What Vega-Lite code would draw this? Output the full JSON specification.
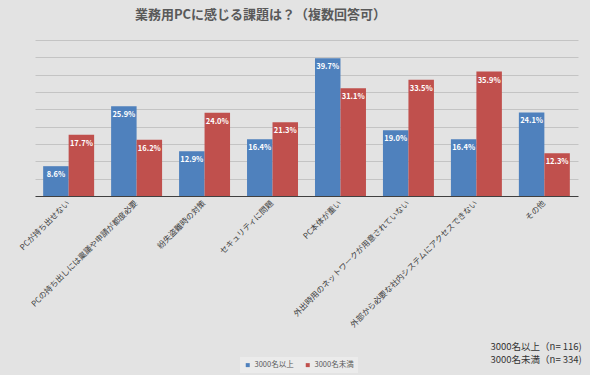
{
  "$schema": "https://vega.github.io/schema/vega-lite/v6.json",
  "width": 543,
  "height": 156,
  "autosize": {"type": "none"},
  "padding": {"left": 35, "top": 40, "right": 12, "bottom": 179},
  "background": "#e3e3e3",
  "title": {
    "text": "業務用PCに感じる課題は？（複数回答可）",
    "font": "Noto Sans CJK JP",
    "fontSize": 13,
    "fontWeight": "bold",
    "color": "#595959",
    "anchor": "middle",
    "dx": -46,
    "offset": 18
  },
  "data": {
    "values": [
      {"item": "PCが持ち出せない", "group": "3000名以上", "value": 0.086},
      {"item": "PCが持ち出せない", "group": "3000名未満", "value": 0.177},
      {"item": "PCの持ち出しには稟議や申請が都度必要", "group": "3000名以上", "value": 0.259},
      {"item": "PCの持ち出しには稟議や申請が都度必要", "group": "3000名未満", "value": 0.162},
      {"item": "紛失盗難時の対策", "group": "3000名以上", "value": 0.129},
      {"item": "紛失盗難時の対策", "group": "3000名未満", "value": 0.240},
      {"item": "セキュリティに問題", "group": "3000名以上", "value": 0.164},
      {"item": "セキュリティに問題", "group": "3000名未満", "value": 0.213},
      {"item": "PC本体が重い", "group": "3000名以上", "value": 0.397},
      {"item": "PC本体が重い", "group": "3000名未満", "value": 0.311},
      {"item": "外出時用のネットワークが用意されていない", "group": "3000名以上", "value": 0.190},
      {"item": "外出時用のネットワークが用意されていない", "group": "3000名未満", "value": 0.335},
      {"item": "外部から必要な社内システムにアクセスできない", "group": "3000名以上", "value": 0.164},
      {"item": "外部から必要な社内システムにアクセスできない", "group": "3000名未満", "value": 0.359},
      {"item": "その他", "group": "3000名以上", "value": 0.241},
      {"item": "その他", "group": "3000名未満", "value": 0.123}
    ]
  },
  "encoding": {
    "x": {
      "field": "item",
      "type": "nominal",
      "sort": null,
      "scale": {"paddingInner": 0.25, "paddingOuter": 0.12},
      "axis": {
        "title": ["3000名以上（n= 116)", "3000名未満（n= 334)"],
        "titleFont": "Noto Sans CJK JP",
        "titleFontSize": 9.5,
        "titleFontWeight": "normal",
        "titleColor": "#333333",
        "titleAlign": "left",
        "titleBaseline": "top",
        "titleAngle": 0,
        "titleX": 455,
        "titleY": 145,
        "titleLineHeight": 13,
        "labelAngle": -45,
        "labelAlign": "right",
        "labelBaseline": "middle",
        "labelFont": "Noto Sans CJK JP",
        "labelFontSize": 8,
        "labelColor": "#404040",
        "labelPadding": 6,
        "labelLimit": 400,
        "ticks": false,
        "domainColor": "#404040",
        "domainWidth": 1.2,
        "grid": false
      }
    },
    "xOffset": {"field": "group", "type": "nominal", "scale": {"paddingInner": 0}},
    "y": {
      "field": "value",
      "type": "quantitative",
      "scale": {"domain": [0, 0.45], "nice": false},
      "axis": {
        "values": [0.05, 0.1, 0.15, 0.2, 0.25, 0.3, 0.35, 0.4, 0.45],
        "labels": false,
        "ticks": false,
        "domain": false,
        "title": null,
        "gridColor": "#c4c4c4",
        "gridWidth": 1
      }
    }
  },
  "layer": [
    {
      "mark": {"type": "bar"},
      "encoding": {
        "color": {
          "field": "group",
          "type": "nominal",
          "scale": {"domain": ["3000名以上", "3000名未満"], "range": ["#4F81BD", "#C0504D"]},
          "legend": {
            "title": null,
            "orient": "none",
            "direction": "horizontal",
            "legendX": 205,
            "legendY": 317,
            "symbolType": "square",
            "symbolSize": 16,
            "symbolStrokeWidth": 0,
            "labelFont": "Noto Sans CJK JP",
            "labelFontSize": 7.5,
            "labelColor": "#595959",
            "columnPadding": 10,
            "labelOffset": 3,
            "fillColor": "#ebebeb",
            "padding": 4
          }
        }
      }
    },
    {
      "mark": {
        "type": "text",
        "color": "white",
        "font": "Noto Sans CJK JP",
        "fontSize": 7.5,
        "fontWeight": "bold",
        "baseline": "middle",
        "dy": 9
      },
      "encoding": {
        "text": {"field": "value", "type": "quantitative", "format": ".1%"},
        "detail": {"field": "group"}
      }
    }
  ],
  "config": {
    "view": {"stroke": null}
  }
}
